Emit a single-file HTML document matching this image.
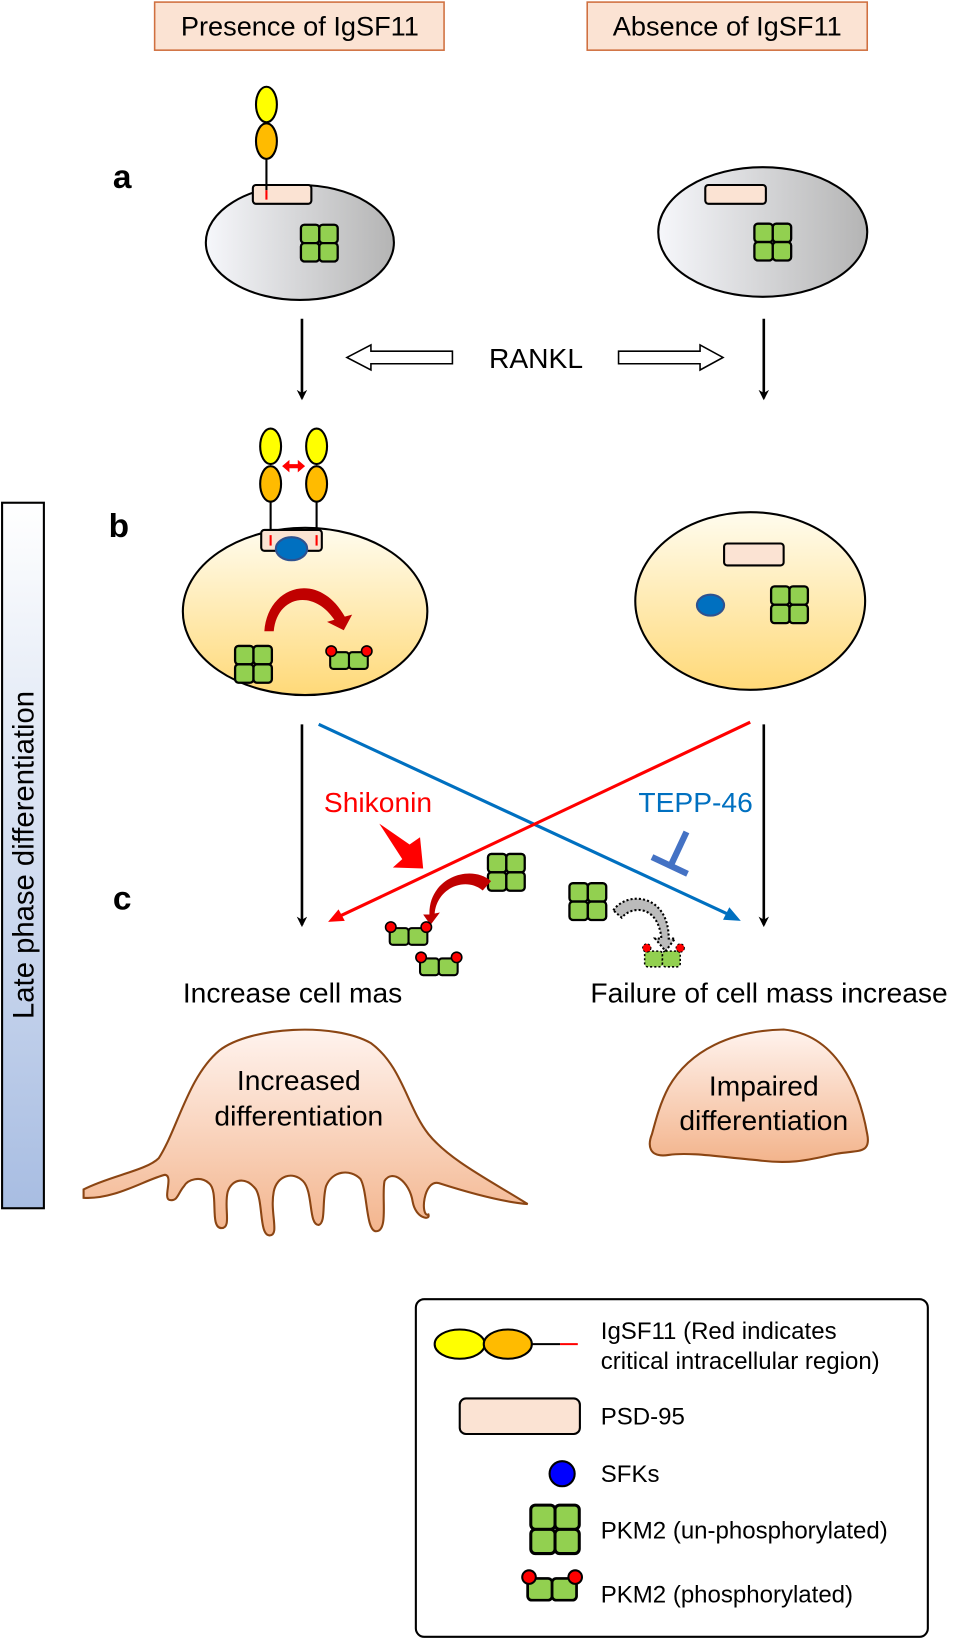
<!DOCTYPE html>
<html><head><meta charset="utf-8"><style>html,body{margin:0;padding:0;background:#fff}svg{display:block}text{font-family:"Liberation Sans",sans-serif}</style></head>
<body>
<svg width="955" height="1642" viewBox="0 0 914 1571" preserveAspectRatio="none" xmlns="http://www.w3.org/2000/svg">
<defs>
<linearGradient id="gg" x1="0" x2="1" y1="0" y2="0"><stop offset="0" stop-color="#f6f7fb"/><stop offset="1" stop-color="#b4b4b4"/></linearGradient>
<linearGradient id="yg" x1="0" x2="0" y1="0" y2="1"><stop offset="0" stop-color="#fffcee"/><stop offset="1" stop-color="#ffd978"/></linearGradient>
<linearGradient id="bg" x1="0" x2="0" y1="0" y2="1"><stop offset="0" stop-color="#ffffff"/><stop offset="1" stop-color="#a8bde2"/></linearGradient>
<linearGradient id="og" x1="0" x2="0" y1="0" y2="1"><stop offset="0" stop-color="#fff3ee"/><stop offset="1" stop-color="#f3b48c"/></linearGradient>
<g id="tet0"><rect x="0" y="0" width="16" height="16" rx="3" fill="#92d050" stroke="#000" stroke-width="2"/><rect x="16" y="0" width="16" height="16" rx="3" fill="#92d050" stroke="#000" stroke-width="2"/><rect x="0" y="16" width="16" height="16" rx="3" fill="#92d050" stroke="#000" stroke-width="2"/><rect x="16" y="16" width="16" height="16" rx="3" fill="#92d050" stroke="#000" stroke-width="2"/></g>
<g id="tet"><use href="#tet0" transform="scale(1.1)"/></g>
<g id="dim"><rect x="0" y="4" width="18" height="16" rx="3" fill="#92d050" stroke="#000" stroke-width="2"/><rect x="18" y="4" width="18" height="16" rx="3" fill="#92d050" stroke="#000" stroke-width="2"/><circle cx="1" cy="3" r="5" fill="#f00" stroke="#000" stroke-width="1.5"/><circle cx="35" cy="3" r="5" fill="#f00" stroke="#000" stroke-width="1.5"/></g>
<marker id="ab" markerWidth="10" markerHeight="10" refX="8" refY="5" orient="auto" markerUnits="userSpaceOnUse"><path d="M0,0 L10,5 L0,10 L3,5z" fill="#000"/></marker>
</defs>
<rect x="148" y="2" width="277" height="46" fill="#fbe3d3" stroke="#d07040" stroke-width="1.5"/>
<text x="287" y="34" font-size="26" text-anchor="middle">Presence of IgSF11</text>
<rect x="562" y="2" width="268" height="46" fill="#fbe3d3" stroke="#d07040" stroke-width="1.5"/>
<text x="696" y="34" font-size="26" text-anchor="middle">Absence of IgSF11</text>
<text x="108" y="180" font-size="32" font-weight="bold">a</text>
<text x="104" y="514" font-size="32" font-weight="bold">b</text>
<text x="108" y="870" font-size="32" font-weight="bold">c</text>
<!-- cell a left -->
<ellipse cx="287" cy="232" rx="90" ry="55" fill="url(#gg)" stroke="#000" stroke-width="2"/>
<rect x="242" y="177" width="56" height="18" rx="3" fill="#fbe3d3" stroke="#000" stroke-width="2"/>
<line x1="255" y1="150" x2="255" y2="182" stroke="#000" stroke-width="2"/>
<line x1="255" y1="182" x2="255" y2="191" stroke="#f00" stroke-width="2"/>
<ellipse cx="255" cy="135" rx="10" ry="17" fill="#ffbb00" stroke="#000" stroke-width="2"/>
<ellipse cx="255" cy="100" rx="10" ry="17" fill="#ffff00" stroke="#000" stroke-width="2"/>
<use href="#tet" x="288" y="215"/>
<!-- cell a right -->
<ellipse cx="730" cy="222" rx="100" ry="62" fill="url(#gg)" stroke="#000" stroke-width="2"/>
<rect x="675" y="177" width="58" height="18" rx="3" fill="#fbe3d3" stroke="#000" stroke-width="2"/>
<use href="#tet" x="722" y="214"/>
<line x1="289" y1="305" x2="289" y2="381" stroke="#000" stroke-width="2.5" marker-end="url(#ab)"/>
<line x1="731" y1="305" x2="731" y2="381" stroke="#000" stroke-width="2.5" marker-end="url(#ab)"/>
<path d="M433,336 L355,336 L355,330 L332,342 L355,354 L355,348 L433,348z" fill="#fff" stroke="#000" stroke-width="1.5"/>
<path d="M592,336 L670,336 L670,330 L692,342 L670,354 L670,348 L592,348z" fill="#fff" stroke="#000" stroke-width="1.5"/>
<text x="513" y="352" font-size="27" text-anchor="middle">RANKL</text>
<!-- cell b left -->
<ellipse cx="292" cy="585" rx="117" ry="80" fill="url(#yg)" stroke="#000" stroke-width="2"/>
<line x1="259" y1="480" x2="259" y2="515" stroke="#000" stroke-width="2"/>
<line x1="303" y1="480" x2="303" y2="515" stroke="#000" stroke-width="2"/>
<rect x="250" y="507" width="58" height="20" rx="3" fill="#fbe3d3" stroke="#000" stroke-width="2"/>
<line x1="259" y1="512" x2="259" y2="522" stroke="#f00" stroke-width="2"/>
<line x1="303" y1="512" x2="303" y2="522" stroke="#f00" stroke-width="2"/>
<ellipse cx="279" cy="525" rx="15" ry="11" fill="#0070c0" stroke="#2f528f" stroke-width="2"/>
<ellipse cx="259" cy="463" rx="10" ry="17" fill="#ffbb00" stroke="#000" stroke-width="2"/>
<ellipse cx="259" cy="427" rx="10" ry="17" fill="#ffff00" stroke="#000" stroke-width="2"/>
<ellipse cx="303" cy="463" rx="10" ry="17" fill="#ffbb00" stroke="#000" stroke-width="2"/>
<ellipse cx="303" cy="427" rx="10" ry="17" fill="#ffff00" stroke="#000" stroke-width="2"/>
<path d="M270,446 L277,440 L277,444 L285,444 L285,440 L292,446 L285,452 L285,448 L277,448 L277,452z" fill="#f00"/>
<path d="M253,604 C256,560 305,545 330,590 L337,588 L329,603 L313,595 L320,593 C300,563 265,570 262,604z" fill="#c00000"/>
<use href="#tet" x="225" y="618"/>
<use href="#dim" x="316" y="620"/>
<!-- cell b right -->
<ellipse cx="718" cy="575" rx="110" ry="85" fill="url(#yg)" stroke="#000" stroke-width="2"/>
<rect x="693" y="520" width="57" height="21" rx="3" fill="#fbe3d3" stroke="#000" stroke-width="2"/>
<ellipse cx="680" cy="579" rx="13" ry="10" fill="#0070c0" stroke="#2f528f" stroke-width="2"/>
<use href="#tet" x="738" y="561"/>
<rect x="2" y="481" width="40" height="675" fill="url(#bg)" stroke="#000" stroke-width="2"/>
<text transform="translate(32,818) rotate(-90)" font-size="28" text-anchor="middle">Late phase differentiation</text>
<!-- section c -->
<line x1="289" y1="693" x2="289" y2="885" stroke="#000" stroke-width="2.5" marker-end="url(#ab)"/>
<line x1="731" y1="693" x2="731" y2="885" stroke="#000" stroke-width="2.5" marker-end="url(#ab)"/>
<line x1="305" y1="693" x2="704" y2="878" stroke="#0070c0" stroke-width="3"/>
<path d="M709,881 L692,880 L698,868z" fill="#0070c0"/>
<line x1="718" y1="691" x2="320" y2="879" stroke="#f00" stroke-width="3"/>
<path d="M314,882 L324,870 L330,881z" fill="#f00"/>
<text x="310" y="777" font-size="27" fill="#f00">Shikonin</text>
<text x="611" y="777" font-size="27" fill="#0070c0">TEPP-46</text>
<line x1="657" y1="796" x2="642" y2="828" stroke="#4472c4" stroke-width="6"/>
<line x1="624" y1="820" x2="658" y2="836" stroke="#4472c4" stroke-width="6"/>
<path d="M363,788 L392,808 L402,801 L405,831 L376,830 L385,822z" fill="#f00"/>
<use href="#tet" x="467" y="817"/>
<path d="M470,843 C450,826 410,840 411,875 L405,875 L412,885 L421,873 L416,874 C418,850 445,838 462,852z" fill="#c00000"/>
<use href="#dim" x="373" y="884"/>
<use href="#dim" x="402" y="913"/>
<use href="#tet" x="545" y="845"/>
<path d="M587,871 C600,852 640,855 640,898 L646,898 L637,910 L627,898 L633,898 C630,866 605,866 595,878z" fill="#bbb" stroke="#000" stroke-width="2" stroke-dasharray="2,2"/>
<g stroke-dasharray="2,2"><rect x="617" y="910" width="17" height="15" rx="3" fill="#92d050" stroke="#000" stroke-width="1.5"/><rect x="634" y="910" width="17" height="15" rx="3" fill="#92d050" stroke="#000" stroke-width="1.5"/><circle cx="619" cy="907" r="4" fill="#f00" stroke="#000" stroke-width="1"/><circle cx="651" cy="907" r="4" fill="#f00" stroke="#000" stroke-width="1"/></g>
<text x="280" y="959" font-size="27" text-anchor="middle">Increase cell mas</text>
<text x="736" y="959" font-size="27" text-anchor="middle">Failure of cell mass increase</text>
<path d="M80,1138 C105,1125 140,1120 152,1108 C170,1080 180,1030 210,1005 C240,982 320,978 355,998 C385,1020 390,1060 410,1085 C430,1110 470,1130 505,1152 C480,1150 445,1140 420,1132 C405,1128 402,1165 410,1162 C412,1168 398,1166 395,1150 C392,1130 375,1118 368,1130 C365,1145 372,1178 360,1178 C350,1178 352,1140 345,1128 C335,1118 318,1120 312,1135 C308,1150 312,1170 305,1172 C295,1172 300,1140 290,1130 C280,1120 265,1125 262,1140 C258,1160 268,1182 258,1182 C248,1182 252,1150 245,1138 C235,1125 222,1128 218,1140 C214,1155 222,1175 212,1175 C200,1175 210,1140 200,1132 C192,1125 180,1128 176,1135 C170,1142 170,1150 162,1148 C156,1146 166,1125 158,1124 C140,1128 110,1148 80,1146z" fill="url(#og)" stroke="#8b4513" stroke-width="2"/>
<text x="286" y="1043" font-size="27" text-anchor="middle">Increased</text>
<text x="286" y="1077" font-size="27" text-anchor="middle">differentiation</text>
<path d="M640,1040 C660,1005 700,986 750,985 C800,990 822,1040 830,1085 C834,1105 820,1100 800,1104 C780,1108 760,1115 725,1110 C690,1107 660,1102 640,1105 C620,1108 620,1095 624,1085 C628,1070 632,1055 640,1040z" fill="url(#og)" stroke="#8b4513" stroke-width="2"/>
<text x="731" y="1048" font-size="27" text-anchor="middle">Impaired</text>
<text x="731" y="1081" font-size="27" text-anchor="middle">differentiation</text>
<!-- legend -->
<rect x="398" y="1243" width="490" height="323" rx="8" fill="#fff" stroke="#000" stroke-width="2"/>
<line x1="508" y1="1286" x2="536" y2="1286" stroke="#000" stroke-width="2"/>
<line x1="536" y1="1286" x2="553" y2="1286" stroke="#f00" stroke-width="2"/>
<ellipse cx="440" cy="1286" rx="24" ry="14" fill="#ffff00" stroke="#000" stroke-width="2"/>
<ellipse cx="486" cy="1286" rx="23" ry="14" fill="#ffbb00" stroke="#000" stroke-width="2"/>
<text x="575" y="1281" font-size="23">IgSF11 (Red indicates</text>
<text x="575" y="1310" font-size="23">critical intracellular region)</text>
<rect x="440" y="1338" width="115" height="34" rx="6" fill="#fbe3d3" stroke="#000" stroke-width="2"/>
<text x="575" y="1363" font-size="23">PSD-95</text>
<circle cx="538" cy="1410" r="12" fill="#0000ff" stroke="#000" stroke-width="2"/>
<text x="575" y="1418" font-size="23">SFKs</text>
<g transform="translate(508,1440) scale(1.45)"><use href="#tet0"/></g>
<text x="575" y="1472" font-size="23">PKM2 (un-phosphorylated)</text>
<g transform="translate(505,1505) scale(1.3)"><use href="#dim"/></g>
<text x="575" y="1533" font-size="23">PKM2 (phosphorylated)</text>
</svg>
</body></html>
